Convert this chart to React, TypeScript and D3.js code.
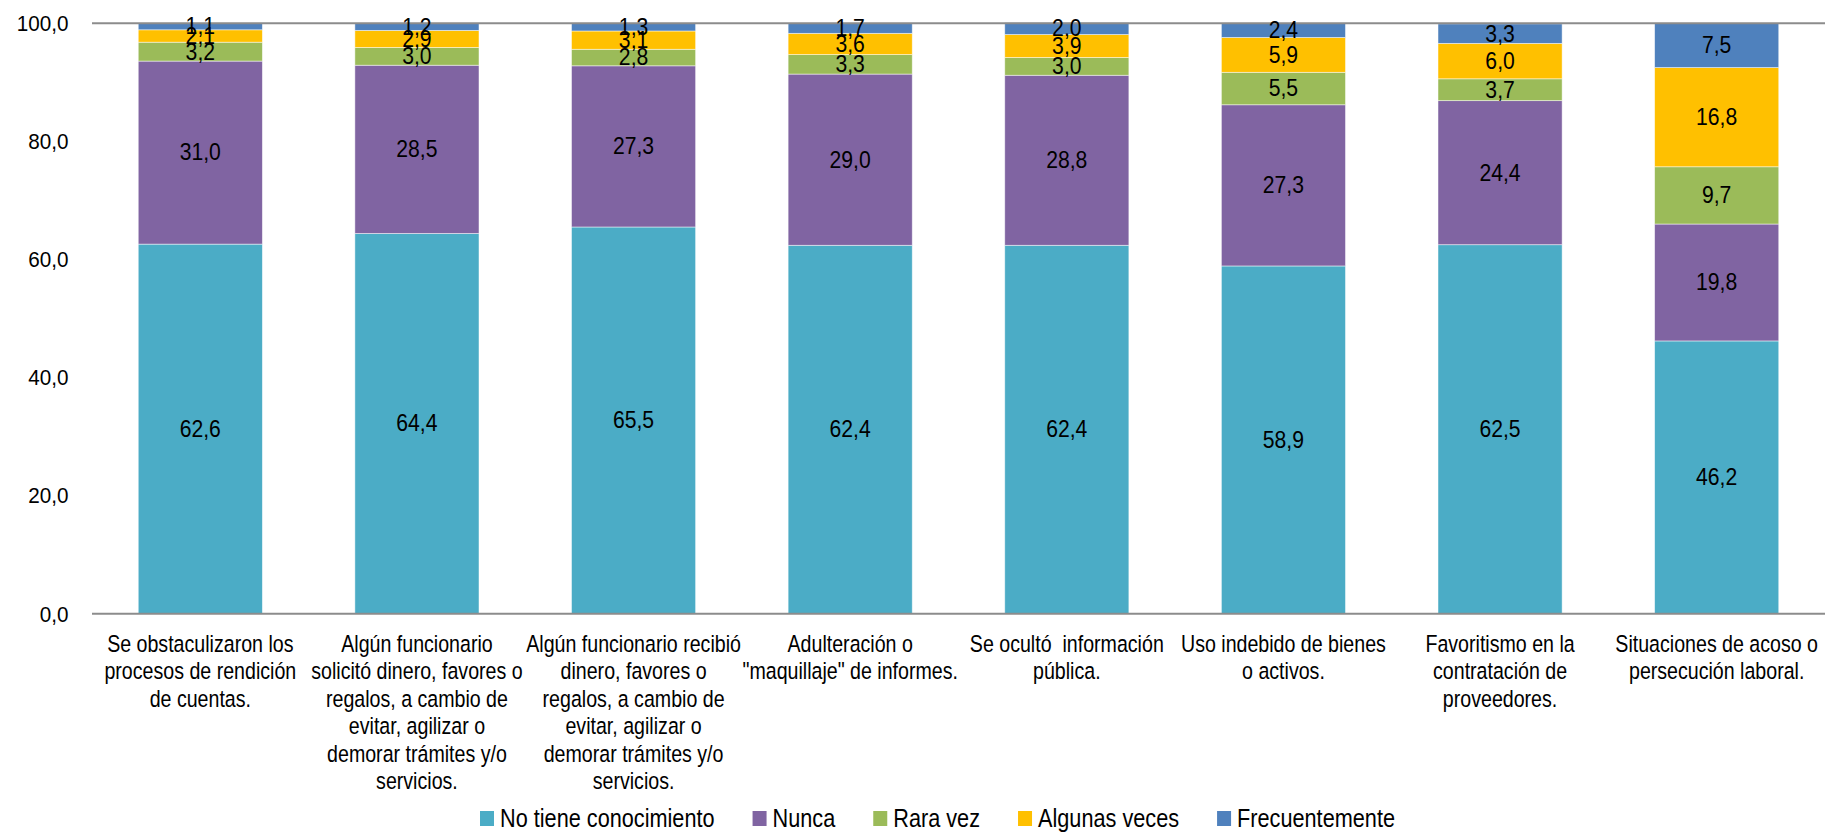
import React, { useEffect, useRef } from "react";
import * as d3 from "d3";

const categories: string[] = [
  "Se obstaculizaron los\nprocesos de rendición\nde cuentas.",
  "Algún funcionario\nsolicitó dinero, favores o\nregalos, a cambio de\nevitar, agilizar o\ndemorar trámites y/o\nservicios.",
  "Algún funcionario recibió\ndinero, favores o\nregalos, a cambio de\nevitar, agilizar o\ndemorar trámites y/o\nservicios.",
  "Adulteración o\n\"maquillaje\" de informes.",
  "Se ocultó  información\npública.",
  "Uso indebido de bienes\no activos.",
  "Favoritismo en la\ncontratación de\nproveedores.",
  "Situaciones de acoso o\npersecución laboral.",
];

const seriesNames: string[] = [
  "No tiene conocimiento",
  "Nunca",
  "Rara vez",
  "Algunas veces",
  "Frecuentemente",
];

const noTieneConocimiento: number[] = [62.6, 64.4, 65.5, 62.4, 62.4, 58.9, 62.5, 46.2];
const nunca: number[] = [31.0, 28.5, 27.3, 29.0, 28.8, 27.3, 24.4, 19.8];
const raraVez: number[] = [3.2, 3.0, 2.8, 3.3, 3.0, 5.5, 3.7, 9.7];
const algunasVeces: number[] = [2.1, 2.9, 3.1, 3.6, 3.9, 5.9, 6.0, 16.8];
const frecuentemente: number[] = [1.1, 1.2, 1.3, 1.7, 2.0, 2.4, 3.3, 7.5];

const yTicks: number[] = [0, 20, 40, 60, 80, 100];

const seriesValues: number[][] = [noTieneConocimiento, nunca, raraVez, algunasVeces, frecuentemente];
const colors: string[] = ["#4BACC6", "#8064A2", "#9BBB59", "#FFC000", "#4F81BD"];

const W = 1826;
const H = 836;
const FONT = "'Liberation Sans', Arial, sans-serif";
const fmt = (v: number) => v.toFixed(1).replace(".", ",");

export default function App() {
  const ref = useRef<SVGSVGElement | null>(null);

  useEffect(() => {
    document.body.style.margin = "0";
    const svg = d3.select(ref.current);
    svg.selectAll("*").remove();

    const left = 92, right = 1825, top = 23.3, bottom = 613.7;

    const x = d3.scaleBand<number>().domain(d3.range(categories.length)).range([left, right]).paddingInner(0.427).paddingOuter(0.2135);
    const y = d3.scaleLinear().domain([0, 100]).range([bottom, top]);

    const rows = categories.map((_, i) => {
      const r: any = { i };
      seriesNames.forEach((s, k) => (r[s] = seriesValues[k][i]));
      return r;
    });
    const stacked = d3.stack<any>().keys(seriesNames)(rows);

    const g = svg.append("g");
    stacked.forEach((layer, k) => {
      g.append("g").selectAll("rect")
        .data(layer)
        .join("rect")
        .attr("x", (d: any) => x(d.data.i)!)
        .attr("width", x.bandwidth())
        .attr("y", (d: any) => y(d[1]))
        .attr("height", (d: any) => y(d[0]) - y(d[1]))
        .attr("fill", colors[k])
        .attr("stroke", "#ffffff")
        .attr("stroke-opacity", 0.6)
        .attr("stroke-width", 0.8);
    });

    [0, 100].forEach((v) => {
      svg.append("line")
        .attr("x1", left).attr("x2", right)
        .attr("y1", y(v)).attr("y2", y(v))
        .attr("stroke", "#8c8c8c").attr("stroke-width", 2);
    });

    const txt = (parent: any, px: number, py: number, anchor: string, fs: number, sx: number) =>
      parent.append("text")
        .attr("transform", `translate(${px},${py}) scale(${sx},1)`)
        .attr("text-anchor", anchor)
        .attr("font-family", FONT)
        .attr("font-size", fs)
        .attr("fill", "#000");

    // value labels
    const vg = svg.append("g");
    stacked.forEach((layer) => {
      layer.forEach((d: any) => {
        txt(vg, x(d.data.i)! + x.bandwidth() / 2, (y(d[0]) + y(d[1])) / 2, "middle", 23.5, 0.9)
          .attr("dominant-baseline", "central")
          .text(fmt(d[1] - d[0]));
      });
    });

    // y tick labels
    const yg = svg.append("g");
    yTicks.forEach((t) => {
      txt(yg, 68.5, y(t), "end", 22.5, 0.92).attr("dominant-baseline", "central").text(fmt(t));
    });

    // category labels
    const cg = svg.append("g");
    categories.forEach((c, i) => {
      const t = txt(cg, x(i)! + x.bandwidth() / 2, 652, "middle", 23.5, 0.835).style("white-space", "pre");
      c.split("\n").forEach((line, j) => {
        t.append("tspan").attr("x", 0).attr("y", j * 27.4).text(line);
      });
    });

    // legend
    const leg = svg.append("g");
    const LSX = 0.868;
    let cx = 480;
    seriesNames.forEach((s, k) => {
      leg.append("rect").attr("x", cx).attr("y", 811).attr("width", 14).attr("height", 15).attr("fill", colors[k]);
      const t = txt(leg, cx + 20, 827, "start", 25, LSX).text(s);
      const w = (t.node() as SVGTextElement).getComputedTextLength() * LSX;
      cx += 20 + w + 38;
    });
  }, []);

  return <svg ref={ref} width={W} height={H} style={{ display: "block", background: "#fff" }} />;
}
